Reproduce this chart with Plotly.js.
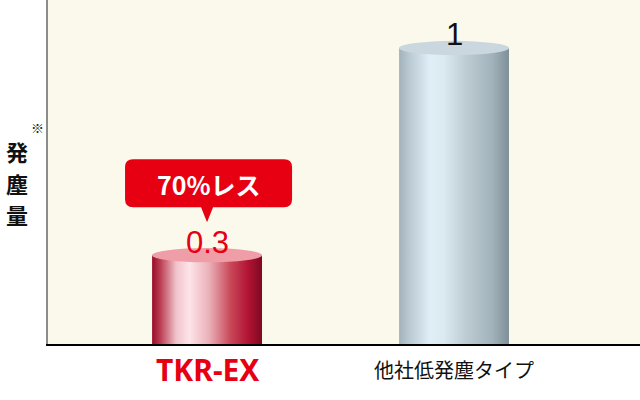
<!DOCTYPE html>
<html>
<head>
<meta charset="utf-8">
<script src="https://cdn.plot.ly/plotly-3.0.1.min.js"></script>
<style>
  html, body { margin: 0; padding: 0; background: #fff; }
  #chart { width: 640px; height: 400px; }
</style>
</head>
<body>
<div id="chart"></div>
<script>
// values
const products = ["TKR-EX", "他社低発塵タイプ"];
const dustAmount = [0.3, 1];
const valueLabels = ["0.3", "1"];
const calloutText = "70%レス";
const yTitle = ["発", "塵", "量"];

const barWidth = 0.445;
const capHalf = 0.024;   // half height of the cylinder top, in y units

const bars = [{
    type: "bar",
    x: [0, 1],
    y: dustAmount,
    width: barWidth,
    marker: {color: ["#c23048", "#b5c5cd"], line: {width: 0}},
    hoverinfo: "none"
}];

// cylinder tops, one per bar
const capColors = ["#ef9ea7", "#cad7df"];
const shapes = dustAmount.map((v, i) => ({
    type: "circle",
    xref: "x", yref: "y",
    x0: i - barWidth / 2, x1: i + barWidth / 2,
    y0: v - capHalf, y1: v + capHalf,
    fillcolor: capColors[i],
    line: {width: 0}
}));

// speech bubble above the first bar
shapes.push({
    type: "path",
    xref: "x", yref: "y",
    xsizemode: "pixel", ysizemode: "pixel",
    xanchor: 0, yanchor: dustAmount[0],
    path: "M -74 96 L 77 96 Q 85 96 85 88 L 85 56 Q 85 48 77 48 " +
          "L 6 48 L 0 33 L -6 48 L -74 48 Q -82 48 -82 56 L -82 88 Q -82 96 -74 96 Z",
    fillcolor: "#e60012",
    line: {width: 0}
});

const annotations = [];

dustAmount.forEach((v, i) => {
    annotations.push({
        x: i, y: v, xref: "x", yref: "y",
        text: valueLabels[i],
        showarrow: false,
        yanchor: "middle", yshift: 13,
        font: {family: "Liberation Sans, Arial, sans-serif", size: 31,
               color: i === 0 ? "#e60012" : "#111111"}
    });
});

annotations.push({
    x: 0, y: dustAmount[0], xref: "x", yref: "y",
    text: "<b>" + calloutText + "</b>",
    showarrow: false,
    yanchor: "middle", yshift: 71, xshift: 2,
    font: {family: "Noto Sans CJK JP, sans-serif", size: 25, color: "#ffffff"}
});

// category labels under the axis
annotations.push({
    x: 0, y: 0, xref: "x", yref: "paper",
    text: "<b>" + products[0] + "</b>",
    showarrow: false, yanchor: "middle", yshift: -25,
    font: {family: "Noto Sans, Arial, sans-serif", size: 30, color: "#e60012"}
});
annotations.push({
    x: 1, y: 0, xref: "x", yref: "paper",
    text: products[1],
    showarrow: false, yanchor: "middle", yshift: -25,
    font: {family: "Noto Sans CJK JP, sans-serif", size: 20, color: "#111111"}
});

// vertical y axis title, one character per annotation
yTitle.forEach((ch, k) => {
    annotations.push({
        x: 0, y: 1, xref: "paper", yref: "paper",
        text: "<b>" + ch + "</b>",
        showarrow: false, xanchor: "center", yanchor: "middle",
        xshift: -31, yshift: -151 - 31.5 * k,
        font: {family: "Noto Sans CJK JP, sans-serif", size: 22, color: "#111111"}
    });
});
annotations.push({
    x: 0, y: 1, xref: "paper", yref: "paper",
    text: "※", showarrow: false, xanchor: "center", yanchor: "middle",
    xshift: -11, yshift: -127,
    font: {family: "Noto Sans CJK JP, sans-serif", size: 13, color: "#222222"}
});

const layout = {
    width: 640,
    height: 400,
    margin: {l: 48, r: 0, t: 0, b: 56},
    paper_bgcolor: "#ffffff",
    plot_bgcolor: "#fbf9eb",
    showlegend: false,
    xaxis: {
        range: [-0.644, 1.753],
        showgrid: false, zeroline: false,
        showticklabels: false, ticks: "",
        showline: true, linecolor: "#000000", linewidth: 2
    },
    yaxis: {
        range: [0, 1.162],
        showgrid: false, zeroline: false,
        showticklabels: false, ticks: "",
        showline: true, linecolor: "#8c8c8c", linewidth: 2
    },
    shapes: shapes,
    annotations: annotations
};

function addGradient(defs, id, stops) {
    const ns = "http://www.w3.org/2000/svg";
    const g = document.createElementNS(ns, "linearGradient");
    g.setAttribute("id", id);
    g.setAttribute("x1", "0"); g.setAttribute("x2", "1");
    g.setAttribute("y1", "0"); g.setAttribute("y2", "0");
    stops.forEach(s => {
        const st = document.createElementNS(ns, "stop");
        st.setAttribute("offset", s[0]);
        st.setAttribute("stop-color", s[1]);
        g.appendChild(st);
    });
    defs.appendChild(g);
}

Plotly.newPlot("chart", bars, layout, {displayModeBar: false, staticPlot: true}).then(gd => {
    // shade the bars like cylinders
    const defs = gd.querySelector(".main-svg defs");
    addGradient(defs, "cylRed", [
        ["0%", "#980c28"], ["8%", "#bd4257"], ["22%", "#f1c4cc"], ["34%", "#fde4e9"],
        ["52%", "#eab0b8"], ["72%", "#c84556"], ["88%", "#b01232"], ["100%", "#7c0a20"]
    ]);
    addGradient(defs, "cylGray", [
        ["0%", "#a2b2bb"], ["10%", "#bccbd3"], ["28%", "#e0eff7"], ["40%", "#dceaf1"],
        ["60%", "#bfcdd5"], ["85%", "#a2b2ba"], ["100%", "#7e8f98"]
    ]);
    const paths = gd.querySelectorAll(".trace.bars .point path");
    const ids = ["cylRed", "cylGray"];
    paths.forEach((p, i) => { p.style.fill = "url(#" + ids[i] + ")"; });
});
</script>
</body>
</html>
